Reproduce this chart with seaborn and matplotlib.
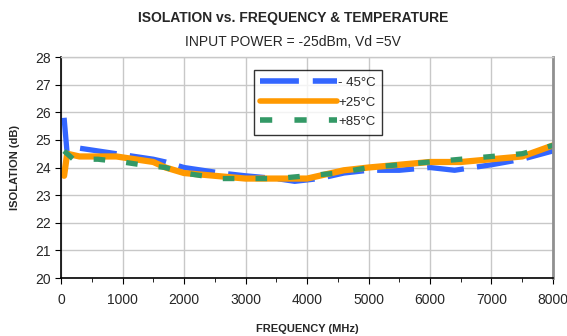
import pandas as pd
import numpy as np
import matplotlib
matplotlib.use("Agg")
import matplotlib.pyplot as plt
import seaborn as sns

# ------------------------------------------
# Data
# ------------------------------------------

freq_cold = [50, 100, 300, 600, 900, 1200, 1500, 1700, 2000, 2300, 2600, 3000,
             3500, 3800, 4200, 4600, 5000, 5500, 6000, 6400, 7000, 7500, 8000]
iso_cold = [25.8, 24.5, 24.7, 24.6, 24.5, 24.4, 24.3, 24.2, 24.0, 23.9, 23.8, 23.7,
            23.6, 23.5, 23.6, 23.8, 23.9, 23.9, 24.0, 23.9, 24.1, 24.3, 24.6]

freq_room = [50, 100, 300, 600, 900, 1200, 1500, 1700, 2000, 2500, 3000, 3500,
             4000, 4200, 4600, 5000, 5500, 6000, 6500, 7000, 7500, 8000]
iso_room = [23.7, 24.5, 24.4, 24.4, 24.4, 24.3, 24.2, 24.0, 23.8, 23.7, 23.6, 23.6,
            23.6, 23.7, 23.9, 24.0, 24.1, 24.2, 24.2, 24.3, 24.4, 24.8]

freq_hot = [50, 200, 600, 1000, 1300, 1700, 2000, 2300, 2600, 3000, 3500, 4000,
            4500, 5000, 5500, 6000, 6500, 7000, 7500, 8000]
iso_hot = [24.6, 24.3, 24.3, 24.2, 24.1, 24.0, 23.8, 23.7, 23.6, 23.6, 23.6, 23.7,
           23.8, 24.0, 24.1, 24.2, 24.3, 24.4, 24.5, 24.8]

labels = ["- 45°C", "+25°C", "+85°C"]

df = pd.concat([
    pd.DataFrame({"freq": freq_cold, "iso": iso_cold, "temp": labels[0]}),
    pd.DataFrame({"freq": freq_room, "iso": iso_room, "temp": labels[1]}),
    pd.DataFrame({"freq": freq_hot, "iso": iso_hot, "temp": labels[2]}),
])

# ------------------------------------------
# Plot
# ------------------------------------------

sns.set_style("whitegrid")
plt.rcParams["font.family"] = ["Liberation Sans", "DejaVu Sans"]

fig = plt.figure(figsize=(5.67, 3.36), dpi=100)
ax = fig.add_axes([0.1076, 0.1726, 0.8677, 0.6577])

palette = {labels[0]: "#3366FF", labels[1]: "#FF9900", labels[2]: "#339966"}
dashes = {labels[0]: (7, 2.5), labels[1]: "", labels[2]: (2.2, 4)}

sns.lineplot(
    data=df, x="freq", y="iso", hue="temp", style="temp",
    palette=palette, dashes=dashes, linewidth=3.8,
    sort=False, estimator=None, ax=ax
)
# orange line a touch heavier, like the original
ax.get_lines()[1].set_linewidth(4.5)

ax.set_xlim(0, 8000)
ax.set_ylim(20, 28)
ax.set_xticks(range(0, 8001, 1000))
ax.set_xticks(range(500, 8000, 1000), minor=True)
ax.set_yticks(range(20, 29))
ax.tick_params(axis="both", which="major", labelsize=10, length=4,
               direction="out", color="black", bottom=True, left=True)
ax.tick_params(axis="x", which="major", pad=7)
ax.tick_params(axis="x", which="minor", length=3, direction="out",
               color="black", bottom=True)

ax.grid(True, which="major", color="#c8c8c8", linewidth=1)

for side in ["left", "bottom"]:
    ax.spines[side].set_color("black")
    ax.spines[side].set_linewidth(1.2)
ax.spines["right"].set_color("#909090")
ax.spines["right"].set_linewidth(2)
ax.spines["top"].set_color("#c8c8c8")
ax.spines["top"].set_linewidth(1)

ax.set_xlabel("FREQUENCY (MHz)", fontsize=8, fontweight="bold", labelpad=12)
ax.set_ylabel("ISOLATION (dB)", fontsize=8, fontweight="bold", labelpad=11)

fig.text(0.517, 0.945, "ISOLATION vs. FREQUENCY & TEMPERATURE",
         ha="center", va="center", fontsize=10, fontweight="bold")
fig.text(0.517, 0.875, "INPUT POWER = -25dBm, Vd =5V",
         ha="center", va="center", fontsize=10)

leg = ax.legend(
    loc="upper left", bbox_to_anchor=(0.378, 0.97), frameon=True,
    fancybox=False, edgecolor="black", fontsize=9.5, handlelength=5.8,
    handletextpad=0.1, borderpad=0.5, labelspacing=0.55
)
leg.get_frame().set_linewidth(1)
for line in leg.get_lines():
    line.set_linewidth(4)

fig.savefig("out.png", dpi=100)
